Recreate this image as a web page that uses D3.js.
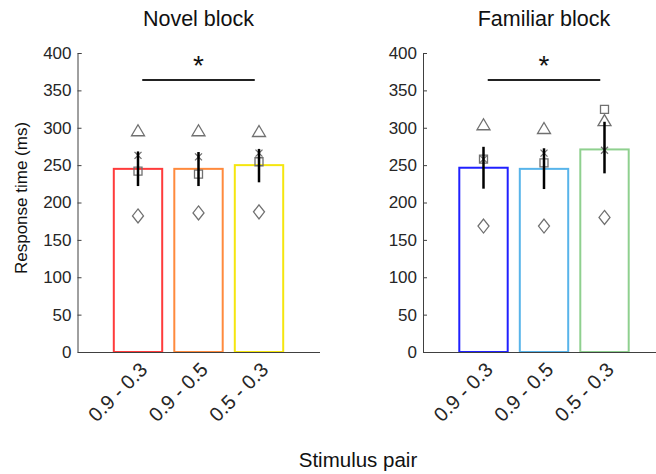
<!DOCTYPE html>
<html>
<head>
<meta charset="utf-8">
<script src="https://cdn.jsdelivr.net/npm/d3@7"></script>
<style>
  body { margin: 0; background: #fff; }
  svg { display: block; font-family: "Liberation Sans", Arial, sans-serif; }
</style>
</head>
<body>
<div id="svgContainer"></div>
<script>
var width = 656;
var height = 474;

// data
var categories = ["0.9 - 0.3", "0.9 - 0.5", "0.5 - 0.3"];
var yTicks = [0, 50, 100, 150, 200, 250, 300, 350, 400];

var novelMeans = [245, 245, 250];
var novelErrLow = [222, 222, 227];
var novelErrHigh = [268, 267.5, 271.5];
var novelTriangle = [296, 296, 295];
var novelStar = [263, 261, 266];
var novelSquare = [242, 238, 254.5];
var novelDiamond = [182, 186, 187.5];

var familiarMeans = [246.5, 245, 271];
var familiarErrLow = [218.5, 218, 239];
var familiarErrHigh = [274.5, 272.5, 308];
var familiarTriangle = [304, 299, 309.5];
var familiarStar = [258, 266, 270];
var familiarSquare = [258, 253, 324.5];
var familiarDiamond = [168.5, 168.5, 180];

var novelColors = ["#ff3b3b", "#ff8a3d", "#f5e60f"];
var familiarColors = ["#2020ff", "#58b4ea", "#8fd08f"];

var sigFrom = 1.07, sigTo = 2.93, sigValue = 364;

var svgContainer = d3.select("#svgContainer").append("svg")
  .attr("width", width)
  .attr("height", height);

// marker shapes
var markerPath = function(type, cx, cy) {
  var p = d3.path();
  if (type === "triangle") {
    p.moveTo(cx, cy - 6); p.lineTo(cx + 6.5, cy + 5); p.lineTo(cx - 6.5, cy + 5); p.closePath();
  } else if (type === "square") {
    p.rect(cx - 4, cy - 4, 8, 8);
  } else if (type === "diamond") {
    p.moveTo(cx, cy - 7); p.lineTo(cx + 5.5, cy); p.lineTo(cx, cy + 7); p.lineTo(cx - 5.5, cy); p.closePath();
  } else {
    p.moveTo(cx - 3.5, cy - 3.5); p.lineTo(cx + 3.5, cy + 3.5);
    p.moveTo(cx + 3.5, cy - 3.5); p.lineTo(cx - 3.5, cy + 3.5);
    p.moveTo(cx, cy - 4.5); p.lineTo(cx, cy + 4.5);
  }
  return p.toString();
};

var drawPanel = function(opts) {
  var x = d3.scaleLinear().domain([0, 4]).range([opts.left, opts.left + 242]);
  var y = d3.scaleLinear().domain([0, 400]).range([352, 53]);
  var g = svgContainer.append("g");
  var barW = 0.8;

  // bars
  g.selectAll("rect.bar").data(opts.means).enter().append("rect")
    .attr("x", function(d, i) { return x(i + 1 - barW / 2); })
    .attr("y", function(d) { return y(d); })
    .attr("width", x(barW) - x(0))
    .attr("height", function(d) { return y(0) - y(d); })
    .attr("fill", "white")
    .attr("stroke", function(d, i) { return opts.colors[i]; })
    .attr("stroke-width", 2);

  // subject markers
  var sets = [["triangle", opts.triangle], ["square", opts.square], ["star", opts.star], ["diamond", opts.diamond]];
  sets.forEach(function(s) {
    g.selectAll(null).data(s[1]).enter().append("path")
      .attr("d", function(d, i) { return markerPath(s[0], x(i + 1), y(d)); })
      .attr("fill", "none")
      .attr("stroke", "#707070")
      .attr("stroke-width", 1.3);
  });

  // error bars
  g.selectAll("line.err").data(opts.errLow).enter().append("line")
    .attr("x1", function(d, i) { return x(i + 1); })
    .attr("x2", function(d, i) { return x(i + 1); })
    .attr("y1", function(d) { return y(d); })
    .attr("y2", function(d, i) { return y(opts.errHigh[i]); })
    .attr("stroke", "black")
    .attr("stroke-width", 2.5);

  // axes
  var yAxis = g.append("g")
    .attr("transform", "translate(" + opts.left + ",0)")
    .call(d3.axisLeft(y).tickValues(yTicks).tickSizeInner(-4).tickSizeOuter(-4).tickPadding(6));
  var xAxis = g.append("g")
    .attr("transform", "translate(0," + y(0) + ")")
    .call(d3.axisBottom(x).tickValues([1, 2, 3]).tickSizeInner(-4).tickSizeOuter(0)
      .tickFormat(function(d) { return categories[d - 1]; }));
  [yAxis, xAxis].forEach(function(a) {
    a.select(".domain").attr("stroke", "#404040");
    a.selectAll(".tick line").attr("stroke", "#404040");
  });
  yAxis.selectAll("text").attr("font-size", 17).attr("fill", "#262626")
    .attr("font-family", "Liberation Sans, Arial, sans-serif");
  xAxis.selectAll(".tick line").remove();
  xAxis.selectAll("text")
    .attr("font-size", 20)
    .attr("fill", "#262626")
    .attr("font-family", "Liberation Sans, Arial, sans-serif")
    .attr("text-anchor", "end")
    .attr("y", 0)
    .attr("dy", 0)
    .attr("transform", "translate(10,19) rotate(-45)");

  // title
  g.append("text")
    .attr("x", x(2))
    .attr("y", 26)
    .attr("text-anchor", "middle")
    .attr("font-size", 21.5)
    .attr("fill", "#111")
    .text(opts.title);

  // significance line
  g.append("line")
    .attr("x1", x(sigFrom)).attr("x2", x(sigTo))
    .attr("y1", y(sigValue)).attr("y2", y(sigValue))
    .attr("stroke", "#222").attr("stroke-width", 2);
  g.append("text")
    .attr("x", x(2))
    .attr("y", y(sigValue) - 5)
    .attr("text-anchor", "middle")
    .attr("font-size", 28)
    .attr("fill", "#111")
    .text("*");
};

drawPanel({
  left: 77.5, title: "Novel block", means: novelMeans, colors: novelColors,
  errLow: novelErrLow, errHigh: novelErrHigh,
  triangle: novelTriangle, square: novelSquare, star: novelStar, diamond: novelDiamond
});
drawPanel({
  left: 423, title: "Familiar block", means: familiarMeans, colors: familiarColors,
  errLow: familiarErrLow, errHigh: familiarErrHigh,
  triangle: familiarTriangle, square: familiarSquare, star: familiarStar, diamond: familiarDiamond
});

svgContainer.append("text")
  .attr("transform", "translate(27,198) rotate(-90)")
  .attr("text-anchor", "middle")
  .attr("font-size", 17)
  .attr("fill", "#111")
  .text("Response time (ms)");

svgContainer.append("text")
  .attr("x", 358)
  .attr("y", 467)
  .attr("text-anchor", "middle")
  .attr("font-size", 20.5)
  .attr("fill", "#111")
  .text("Stimulus pair");
</script>
</body>
</html>
